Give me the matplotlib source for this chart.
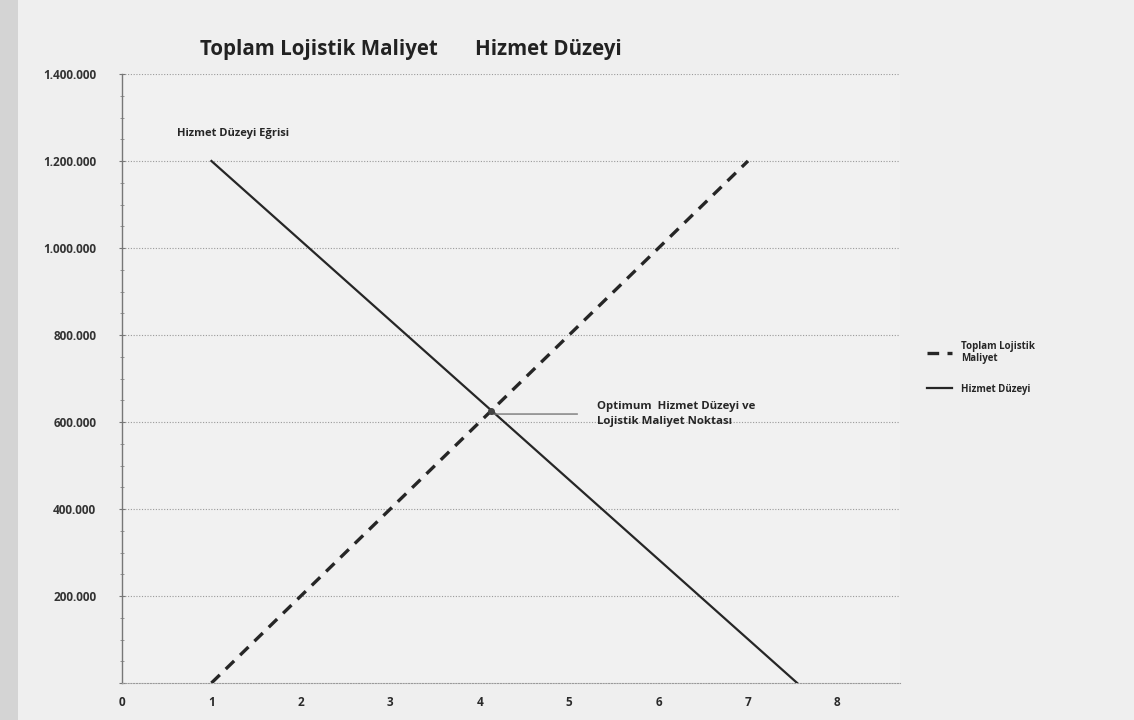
import matplotlib
matplotlib.use("Agg")
import matplotlib.pyplot as plt
from matplotlib.ticker import FuncFormatter, MultipleLocator
import numpy as np

plt.rcParams['font.family'] = ['Open Sans', 'DejaVu Sans']

# ---- data ----
cost_x = [1, 7]                  # Toplam Lojistik Maliyet (dashed)
cost_y = [0, 1200000]
service_x = [1, 7.55]            # Hizmet Düzeyi (solid)
service_y = [1200000, 0]
x_ticks = [0, 1, 2, 3, 4, 5, 6, 7, 8]
y_ticks = [0, 200000, 400000, 600000, 800000, 1000000, 1200000, 1400000]

title_left = "Toplam Lojistik Maliyet"
title_right = "Hizmet Düzeyi"
curve_label = "Hizmet Düzeyi Eğrisi"
optimum_label = "Optimum  Hizmet Düzeyi ve\nLojistik Maliyet Noktası"
legend_labels = ["Toplam Lojistik\nMaliyet", "Hizmet Düzeyi"]

# intersection of the two lines (from the data)
m1 = (cost_y[1] - cost_y[0]) / (cost_x[1] - cost_x[0])
m2 = (service_y[1] - service_y[0]) / (service_x[1] - service_x[0])
b1 = cost_y[0] - m1 * cost_x[0]
b2 = service_y[0] - m2 * service_x[0]
ix = (b2 - b1) / (m1 - m2)
iy = m1 * ix + b1

W, H = 1134, 720
fig = plt.figure(figsize=(W / 100, H / 100), dpi=100, facecolor='#efefef')
# scanned-page darker left edge
fig.patches.append(plt.Rectangle((0, 0), 18 / W, 1, transform=fig.transFigure,
                                 facecolor='#d4d4d4', edgecolor='none', zorder=0))

ax = fig.add_axes([122 / W, 1 - 683 / H, (900 - 122) / W, (683 - 74) / H])
ax.set_facecolor('#f1f1f1')
ax.set_xlim(0, 8.7)
ax.set_ylim(0, 1400000)

ink = '#262626'
l1, = ax.plot(cost_x, cost_y, color=ink, lw=2.4, linestyle=(0, (3.5, 2.5)), zorder=3)
l2, = ax.plot(service_x, service_y, color=ink, lw=1.6, zorder=3)

# gridlines
for yv in y_ticks[1:]:
    ax.axhline(yv, color='#9a9a9a', lw=0.8, linestyle=(0, (1, 1.5)), zorder=1)

ax.set_yticks(y_ticks)
ax.yaxis.set_major_formatter(FuncFormatter(lambda v, p: '' if v == 0 else f"{int(v):,}".replace(',', '.')))
ax.yaxis.set_minor_locator(MultipleLocator(50000))
ax.tick_params(axis='y', which='major', direction='inout', length=5, color='#777777',
               labelsize=8.5, pad=16, labelcolor='#333333')
ax.tick_params(axis='y', which='minor', direction='inout', length=3, color='#888888')
for lab in ax.get_yticklabels():
    lab.set_fontweight('bold')

ax.set_xticks(x_ticks)
ax.set_xticklabels([str(v) for v in x_ticks], fontweight='bold', fontsize=8.5, color='#2a2a2a')
ax.tick_params(axis='x', length=0, pad=9)

for s in ['top', 'right']:
    ax.spines[s].set_visible(False)
ax.spines['left'].set_color('#777777')
ax.spines['left'].set_linewidth(1.0)
ax.spines['bottom'].set_color('#9a9a9a')
ax.spines['bottom'].set_linewidth(0.8)
ax.spines['bottom'].set_linestyle((0, (1, 1.5)))

# annotations
ax.text(service_x[0] - 0.39, service_y[0] + 50000, curve_label, fontsize=8, fontweight='bold',
        color='#262626', ha='left', va='bottom')
ax.plot([ix], [iy], marker='o', ms=4, color='#444444', zorder=4)
ax.annotate(optimum_label, xy=(ix, iy - 8000), xytext=(5.31, iy - 8000),
            fontsize=8.2, fontweight='bold', color='#262626', va='center', ha='left',
            linespacing=1.4,
            arrowprops=dict(arrowstyle='-', color='#777777', lw=1.0, shrinkA=12, shrinkB=0))

# titles
fig.text(200 / W, 1 - 50 / H, title_left, fontsize=14.8, fontweight='bold', color='#222222',
         ha='left', va='center')
fig.text(475 / W, 1 - 50 / H, title_right, fontsize=14.8, fontweight='bold', color='#222222',
         ha='left', va='center')

# legend
fig.legend([l1, l2], legend_labels, loc='upper left', bbox_to_anchor=(918 / W, 1 - 332 / H),
           frameon=False, prop={'size': 7, 'weight': 'bold'}, handlelength=2.6,
           handletextpad=0.9, labelspacing=2.0, labelcolor='#262626')

fig.savefig('out.png', dpi=100, facecolor=fig.get_facecolor())
